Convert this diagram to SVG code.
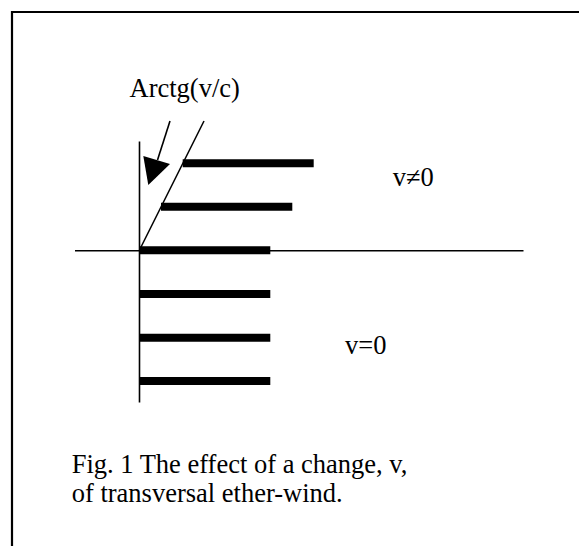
<svg xmlns="http://www.w3.org/2000/svg" width="579" height="546" viewBox="0 0 579 546">
<style>
.t{font-family:"Liberation Serif","Times New Roman",serif;font-size:26.5px;fill:#000}
.ln{stroke:#000;stroke-width:1.6;fill:none}
.bar{stroke:#000;stroke-width:8;fill:none}
</style>
<rect width="579" height="546" fill="#fff"/>
<g id="frame"><path d="M12,546 V12 H579" fill="none" stroke="#000" stroke-width="2.2"/></g>
<g id="connectors">
<line class="ln" x1="139.5" y1="141.5" x2="139.5" y2="402.5"/>
<line class="ln" x1="75" y1="250.7" x2="523.5" y2="250.7"/>
<line class="ln" x1="139.5" y1="250" x2="204" y2="121"/>
<line class="ln" x1="170" y1="121" x2="157.5" y2="160"/>
<polygon points="143.3,156 170,164 148.3,185" fill="#000"/>
</g>
<g id="bars">
<line class="bar" x1="182.7" y1="163.3" x2="313.7" y2="163.3"/>
<line class="bar" x1="161" y1="206.7" x2="292.3" y2="206.7"/>
<line class="bar" x1="139.5" y1="250.3" x2="270.3" y2="250.3"/>
<line class="bar" x1="139.5" y1="294" x2="270.3" y2="294"/>
<line class="bar" x1="139.5" y1="337.7" x2="270.3" y2="337.7"/>
<line class="bar" x1="139.5" y1="381" x2="270.3" y2="381"/>
</g>
<g id="label-arctg"><text class="t" x="129.5" y="97.3">Arctg(v/c)</text></g>
<g id="label-vne0"><text class="t" x="392.7" y="185.5">v≠0</text></g>
<g id="label-veq0"><text class="t" x="345" y="354">v=0</text></g>
<g id="caption">
<text class="t" x="71.7" y="473">Fig. 1 The effect of a change, v,</text>
<text class="t" x="71.7" y="502">of transversal ether-wind.</text>
</g>
</svg>
